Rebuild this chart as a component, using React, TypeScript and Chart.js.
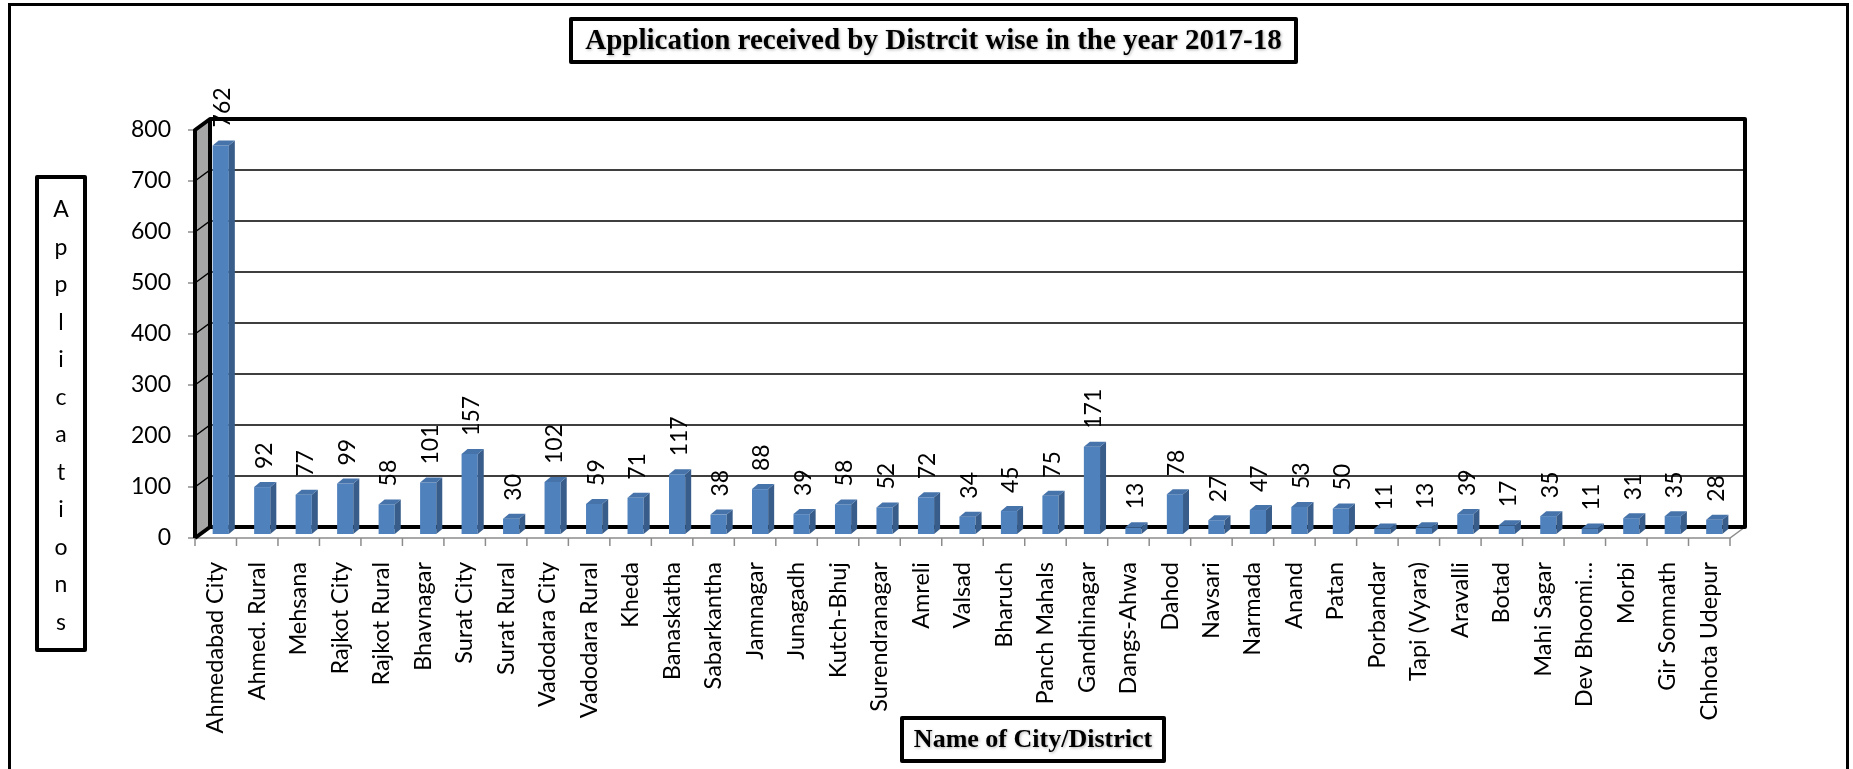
import React, { useEffect, useRef } from "react";
import { Chart, registerables } from "chart.js";

Chart.register(...registerables);

// ---------- data ----------
const categories = [
  "Ahmedabad City", "Ahmed. Rural", "Mehsana", "Rajkot City", "Rajkot Rural",
  "Bhavnagar", "Surat City", "Surat Rural", "Vadodara City", "Vadodara Rural",
  "Kheda", "Banaskatha", "Sabarkantha", "Jamnagar", "Junagadh", "Kutch-Bhuj",
  "Surendranagar", "Amreli", "Valsad", "Bharuch", "Panch Mahals", "Gandhinagar",
  "Dangs-Ahwa", "Dahod", "Navsari", "Narmada", "Anand", "Patan", "Porbandar",
  "Tapi (Vyara)", "Aravalli", "Botad", "Mahi Sagar", "Dev Bhoomi\u2026", "Morbi",
  "Gir Somnath", "Chhota Udepur",
];
const applications = [
  762, 92, 77, 99, 58, 101, 157, 30, 102, 59, 71, 117, 38, 88, 39, 58, 52, 72,
  34, 45, 75, 171, 13, 78, 27, 47, 53, 50, 11, 13, 39, 17, 35, 11, 31, 35, 28,
];
const yTickValues = [0, 100, 200, 300, 400, 500, 600, 700, 800];
const chartTitle = "Application received by Distrcit wise in the year 2017-18";
const xAxisTitle = "Name of City/District";
const yAxisTitle = "Applications";

// ---------- layout / style ----------
const W = 1853;
const H = 769;
const WALL_DX = 15;
const WALL_DY = -11;
const BAR_SHIFT_X = 5;
const BAR_SHIFT_Y = -4;
const BAR_DX = 6;
const BAR_DY = -5;
const SANS = "Lato, 'Liberation Sans', sans-serif";
const SERIF = "'Liberation Serif', 'Times New Roman', serif";

function strokeBox(ctx: CanvasRenderingContext2D, x: number, y: number, w: number, h: number, lw: number) {
  ctx.save();
  ctx.fillStyle = "#fff";
  ctx.fillRect(x, y, w, h);
  ctx.strokeStyle = "#000";
  ctx.lineWidth = lw;
  ctx.lineJoin = "round";
  ctx.strokeRect(x, y, w, h);
  ctx.restore();
}

function shadowText(ctx: CanvasRenderingContext2D, text: string, x: number, y: number, font: string) {
  ctx.save();
  ctx.fillStyle = "#000";
  ctx.font = font;
  ctx.textAlign = "center";
  ctx.textBaseline = "middle";
  ctx.shadowColor = "rgba(0,0,0,0.3)";
  ctx.shadowBlur = 3;
  ctx.shadowOffsetX = 1;
  ctx.shadowOffsetY = 1;
  ctx.fillText(text, x, y);
  ctx.restore();
}

const decorPlugin = {
  id: "decor3d",
  beforeDraw(chart: any) {
    const ctx: CanvasRenderingContext2D = chart.ctx;
    const { left, right, top, bottom } = chart.chartArea;
    const ys = chart.scales.y;
    ctx.save();
    ctx.fillStyle = "#fff";
    ctx.fillRect(0, 0, W, H);
    // outer frame
    ctx.strokeStyle = "#000";
    ctx.lineWidth = 3;
    ctx.strokeRect(9.5, 4.5, 1838, 800);

    // left wall
    ctx.fillStyle = "#A6A6A6";
    ctx.beginPath();
    ctx.moveTo(left, top);
    ctx.lineTo(left + WALL_DX, top + WALL_DY);
    ctx.lineTo(left + WALL_DX, bottom + WALL_DY);
    ctx.lineTo(left, bottom);
    ctx.closePath();
    ctx.fill();

    // gridlines on back wall + left wall
    ctx.strokeStyle = "#000";
    ctx.lineWidth = 1.5;
    yTickValues.forEach((v) => {
      if (v === 0 || v === 800) return;
      const y = ys.getPixelForValue(v);
      ctx.beginPath();
      ctx.moveTo(left, y);
      ctx.lineTo(left + WALL_DX, y + WALL_DY);
      ctx.lineTo(right + WALL_DX, y + WALL_DY);
      ctx.stroke();
    });

    // y tick marks
    ctx.strokeStyle = "#8c8c8c";
    ctx.lineWidth = 1.5;
    yTickValues.forEach((v) => {
      const y = ys.getPixelForValue(v);
      ctx.beginPath();
      ctx.moveTo(left - 7, y);
      ctx.lineTo(left, y);
      ctx.stroke();
    });

    // front floor edge and category ticks
    ctx.beginPath();
    ctx.moveTo(left, bottom);
    ctx.lineTo(right, bottom);
    ctx.lineTo(right + WALL_DX, bottom + WALL_DY);
    ctx.stroke();
    const n = categories.length;
    for (let i = 0; i <= n; i++) {
      const x = left + ((right - left) * i) / n;
      ctx.beginPath();
      ctx.moveTo(x, bottom);
      ctx.lineTo(x, bottom + 8);
      ctx.stroke();
    }

    // thick outlines of walls
    ctx.strokeStyle = "#000";
    ctx.lineWidth = 4;
    ctx.lineJoin = "round";
    ctx.beginPath();
    ctx.moveTo(left, bottom);
    ctx.lineTo(left, top);
    ctx.lineTo(left + WALL_DX, top + WALL_DY);
    ctx.lineTo(right + WALL_DX, top + WALL_DY);
    ctx.lineTo(right + WALL_DX, bottom + WALL_DY);
    ctx.lineTo(left + WALL_DX, bottom + WALL_DY);
    ctx.lineTo(left + WALL_DX, top + WALL_DY);
    ctx.stroke();
    ctx.beginPath();
    ctx.moveTo(left, bottom);
    ctx.lineTo(left + WALL_DX, bottom + WALL_DY);
    ctx.stroke();
    ctx.restore();
  },
  beforeDatasetsDraw(chart: any) {
    chart.ctx.save();
    chart.ctx.translate(BAR_SHIFT_X, BAR_SHIFT_Y);
  },
  afterDatasetsDraw(chart: any) {
    const ctx: CanvasRenderingContext2D = chart.ctx;
    ctx.restore();
    const meta = chart.getDatasetMeta(0);
    ctx.save();
    meta.data.forEach((el: any, i: number) => {
      const p = el.getProps(["x", "y", "base", "width"], true);
      const l = p.x - p.width / 2 + BAR_SHIFT_X;
      const r = p.x + p.width / 2 + BAR_SHIFT_X;
      const t = p.y + BAR_SHIFT_Y;
      const b = p.base + BAR_SHIFT_Y;
      // side face
      ctx.fillStyle = "#385D8A";
      ctx.beginPath();
      ctx.moveTo(r, t);
      ctx.lineTo(r + BAR_DX, t + BAR_DY);
      ctx.lineTo(r + BAR_DX, b + BAR_DY);
      ctx.lineTo(r, b);
      ctx.closePath();
      ctx.fill();
      // top face
      ctx.fillStyle = "#4673AA";
      ctx.beginPath();
      ctx.moveTo(l, t);
      ctx.lineTo(l + BAR_DX, t + BAR_DY);
      ctx.lineTo(r + BAR_DX, t + BAR_DY);
      ctx.lineTo(r, t);
      ctx.closePath();
      ctx.fill();
      // value label
      ctx.save();
      ctx.fillStyle = "#000";
      ctx.font = `23px ${SANS}`;
      ctx.textAlign = "left";
      ctx.textBaseline = "middle";
      ctx.translate(p.x + BAR_SHIFT_X + 2, t - 18);
      ctx.rotate(-Math.PI / 2);
      ctx.fillText(String(applications[i]), 0, 0);
      ctx.restore();
    });
    ctx.restore();
  },
  afterDraw(chart: any) {
    const ctx: CanvasRenderingContext2D = chart.ctx;
    // chart title
    strokeBox(ctx, 571, 19, 725, 43, 4);
    shadowText(ctx, chartTitle, 933.5, 41.5, `bold 29px ${SERIF}`);

    // x axis title
    strokeBox(ctx, 902, 718, 262, 43, 4);
    shadowText(ctx, xAxisTitle, 1033, 740.5, `bold 26px ${SERIF}`);

    // y axis title (stacked letters)
    strokeBox(ctx, 37, 177, 48, 473, 4);
    ctx.save();
    ctx.fillStyle = "#000";
    ctx.font = `23px ${SANS}`;
    ctx.textAlign = "center";
    ctx.textBaseline = "middle";
    yAxisTitle.split("").forEach((ch, i) => {
      ctx.fillText(ch, 61, 210 + i * 37.5);
    });
    ctx.restore();
  },
};

export default function App() {
  const canvasRef = useRef<HTMLCanvasElement | null>(null);

  useEffect(() => {
    const canvas = canvasRef.current;
    if (!canvas) return;
    const chart = new Chart(canvas, {
      type: "bar",
      data: {
        labels: categories,
        datasets: [
          {
            label: "Applications",
            data: applications,
            backgroundColor: "#4F81BD",
            borderWidth: 0,
            categoryPercentage: 1,
            barPercentage: 0.39,
            clip: false as any,
          },
        ],
      },
      options: {
        animation: false,
        responsive: false,
        devicePixelRatio: 1,
        events: [],
        layout: { padding: { top: 130, right: 123, left: 0, bottom: 0 } },
        plugins: {
          legend: { display: false },
          title: { display: false },
          tooltip: { enabled: false },
        },
        scales: {
          x: {
            grid: { display: false, drawTicks: false },
            border: { display: false },
            ticks: {
              autoSkip: false,
              maxRotation: 90,
              minRotation: 90,
              padding: 24,
              color: "#000",
              font: { family: SANS, size: 23.5 },
            },
            afterFit: (scale: any) => {
              scale.height = 231;
            },
          },
          y: {
            min: 0,
            max: 800,
            grid: { display: false, drawTicks: false },
            border: { display: false },
            ticks: {
              stepSize: 100,
              padding: 24,
              color: "#000",
              font: { family: SANS, size: 23 },
            },
            afterFit: (scale: any) => {
              scale.width = 195;
            },
          },
        },
      },
      plugins: [decorPlugin],
    });
    return () => chart.destroy();
  }, []);

  return (
    <div style={{ position: "absolute", left: 0, top: 0, width: W, height: H, background: "#fff" }}>
      <canvas ref={canvasRef} width={W} height={H} style={{ display: "block", width: W, height: H }} />
    </div>
  );
}
